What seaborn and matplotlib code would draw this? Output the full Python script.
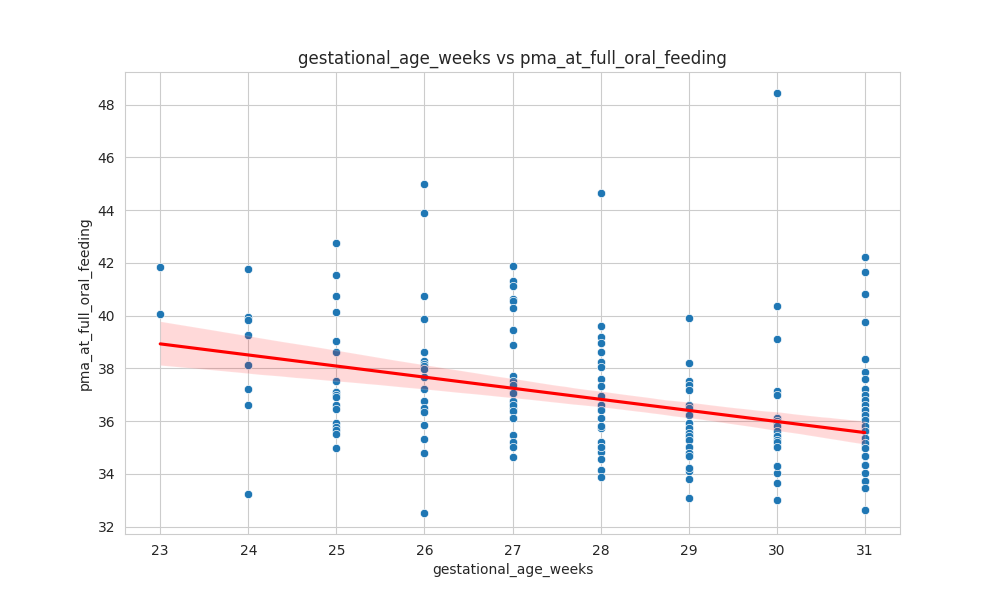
import pandas as pd
import seaborn as sns
import matplotlib
matplotlib.use("Agg")
import matplotlib.pyplot as plt

# pma values, grouped by gestational age (weeks)
# many markers sit on top of each other, so repeated values are listed again
pma_23 = [41.85, 40.05]
pma_24 = [41.77, 39.95, 39.85, 39.27, 38.13, 37.22, 36.61, 33.24]
pma_25 = [42.76, 41.54, 40.75, 40.14, 39.03, 38.62, 37.53, 37.09, 37.0, 36.92,
          36.63, 36.46, 35.93, 35.78, 35.68, 35.51, 34.98,
          37.09, 37.0, 36.92]
pma_26 = [44.99, 43.89, 40.75, 39.87, 38.62, 38.27, 38.18, 38.08, 37.98, 37.66,
          37.22, 36.78, 36.5, 36.33, 35.87, 35.34, 34.79, 32.52]
pma_27 = [41.88, 41.3, 41.14, 40.64, 40.57, 40.29, 39.47, 38.89, 37.7, 37.51,
          37.38, 37.07, 36.75, 36.63, 36.5, 36.37, 36.12, 35.49, 35.23, 35.02, 34.64,
          37.07, 36.75, 36.63, 36.37, 36.12]
pma_28 = [44.65, 39.62, 39.19, 38.96, 38.62, 38.23, 38.05, 37.61, 37.32, 36.94,
          36.63, 36.44, 36.12, 35.8, 35.74, 35.23, 35.04, 34.82, 34.57, 34.16, 33.88,
          36.63, 36.44, 36.12, 35.8, 35.04]
pma_29 = [39.92, 38.21, 37.51, 37.38, 37.19, 36.63, 36.5, 36.25, 35.93, 35.74,
          35.55, 35.42, 35.3, 35.04, 34.79, 34.67, 34.23, 34.1, 33.81, 33.09,
          36.25, 35.93, 35.74, 35.55, 35.42, 35.3, 35.04, 34.79, 34.67, 34.23]
pma_30 = [48.44, 40.37, 39.12, 37.13, 37.0, 36.12, 36.0, 35.93, 35.8, 35.61,
          35.42, 35.3, 35.23, 35.04, 34.29, 34.04, 33.66, 33.02,
          36.12, 36.0, 35.93, 35.8, 35.61, 35.42, 35.3, 35.23, 35.04, 34.29]
pma_31 = [42.22, 41.65, 40.82, 39.76, 38.36, 37.86, 37.61, 37.23, 37.0, 36.82,
          36.63, 36.44, 36.25, 36.06, 35.8, 35.61, 35.36, 35.17, 34.98, 34.67,
          34.35, 34.04, 33.72, 33.47, 32.64,
          35.8, 35.61, 35.36, 35.17, 34.98, 34.67, 34.35, 34.04, 33.72, 33.47,
          35.8, 35.61, 35.36, 35.17, 34.98, 34.67, 34.35, 34.04, 33.72, 33.47,
          36.44, 36.25, 36.06, 35.8, 35.61, 35.36, 35.17, 34.98, 34.67, 34.35]

weeks = [23, 24, 25, 26, 27, 28, 29, 30, 31]
groups = [pma_23, pma_24, pma_25, pma_26, pma_27, pma_28, pma_29, pma_30, pma_31]

rows = []
for w, vals in zip(weeks, groups):
    for v in vals:
        rows.append((w, v))
df = pd.DataFrame(rows, columns=['gestational_age_weeks', 'pma_at_full_oral_feeding'])

sns.set_style('whitegrid')
fig, ax = plt.subplots(figsize=(10, 6))

sns.scatterplot(data=df, x='gestational_age_weeks', y='pma_at_full_oral_feeding', ax=ax)
sns.regplot(data=df, x='gestational_age_weeks', y='pma_at_full_oral_feeding',
            scatter=False, color='red', ax=ax)

ax.set_title('gestational_age_weeks vs pma_at_full_oral_feeding', fontsize=12)
ax.set_xlabel('gestational_age_weeks')
ax.set_ylabel('pma_at_full_oral_feeding')

plt.savefig('out.png', dpi=100)
